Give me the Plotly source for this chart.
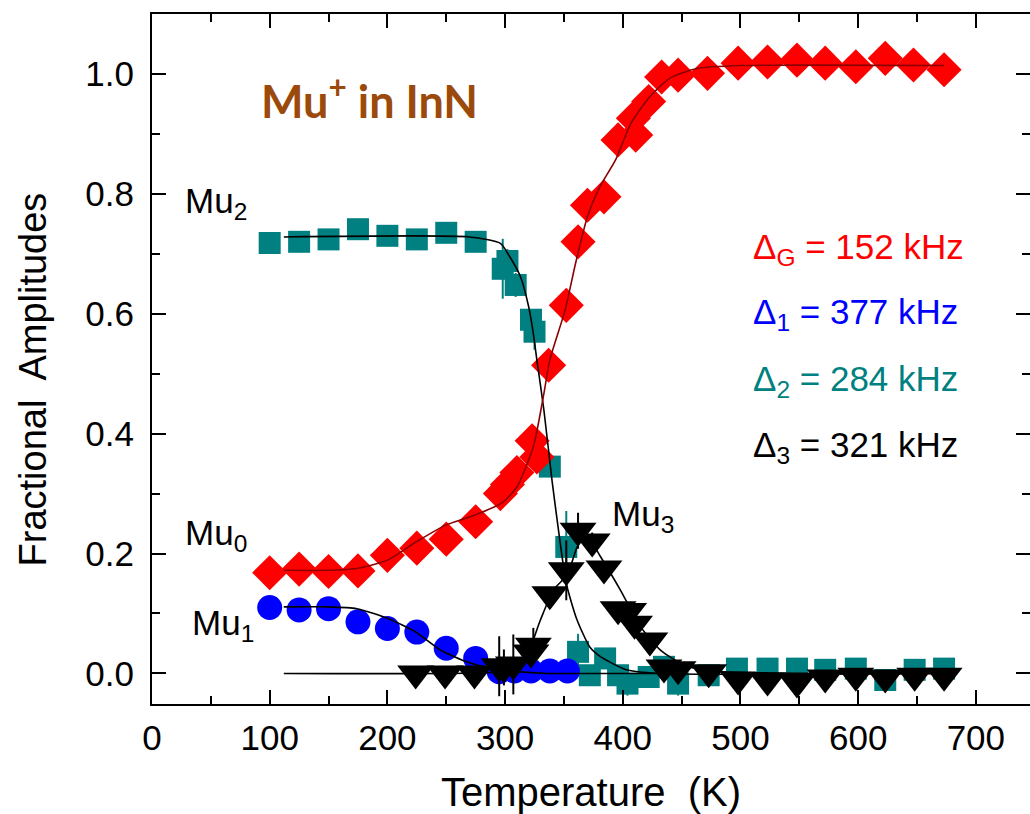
import plotly.graph_objects as go

# ---- measured fractional amplitudes vs temperature ----
# Mu0 (diamagnetic, Delta_G)
t_mu0 = [100, 125, 150, 175, 200, 225, 250, 275, 296, 302, 310, 323, 327, 337,
         352, 362, 370, 384, 396, 409, 411, 422, 433, 447, 472, 498, 523, 548,
         572, 598, 623, 647, 673]
a_mu0 = [0.168, 0.174, 0.170, 0.171, 0.197, 0.209, 0.224, 0.253, 0.300, 0.315,
         0.335, 0.388, 0.361, 0.514, 0.614, 0.720, 0.781, 0.795, 0.890, 0.926,
         0.898, 0.954, 0.995, 0.998, 1.001, 1.018, 1.020, 1.023, 1.018, 1.012,
         1.026, 1.015, 1.007]

# Mu1 (Delta_1)
t_mu1 = [100, 125, 150, 175, 200, 225, 250, 275, 295, 308, 322, 338, 353]
a_mu1 = [0.110, 0.106, 0.108, 0.086, 0.075, 0.069, 0.042, 0.025, 0.003, 0.004,
         0.004, 0.004, 0.004]

# Mu2 (Delta_2)
t_mu2 = [100, 125, 150, 175, 200, 225, 250, 275, 298, 302, 309, 322, 325, 338,
         352, 362, 372, 385, 396, 404, 422, 435, 447, 473, 497, 523, 548, 572,
         598, 623, 648, 673]
a_mu2 = [0.718, 0.720, 0.724, 0.741, 0.730, 0.724, 0.735, 0.720, 0.675, 0.688,
         0.648, 0.590, 0.570, 0.345, 0.211, 0.036, -0.003, 0.025, -0.003, -0.017,
         -0.006, 0.011, -0.017, -0.003, 0.008, 0.008, 0.008, 0.006, 0.008,
         -0.011, 0.006, 0.008]
e_mu2 = [0.0, 0.0, 0.0, 0.0, 0.0, 0.012, 0.0, 0.0, 0.05, 0.02, 0.02, 0.0, 0.03,
         0.0, 0.06, 0.03, 0.0, 0.015, 0.0, 0.02, 0.0, 0.0, 0.02, 0.0, 0.0, 0.0,
         0.0, 0.0, 0.0, 0.0, 0.0, 0.0]

# Mu3 (Delta_3)
t_mu3 = [224, 249, 274, 295, 299, 307, 322, 324, 338, 352, 362, 374, 384, 396,
         405, 410, 423, 435, 447, 473, 498, 523, 548, 572, 598, 623, 648, 673]
a_mu3 = [0.0, 0.0, 0.0, 0.012, 0.010, 0.015, 0.035, 0.046, 0.132, 0.172, 0.238,
         0.220, 0.175, 0.107, 0.104, 0.083, 0.055, 0.010, 0.007, 0.002, -0.010,
         -0.012, -0.015, -0.007, -0.004, -0.007, -0.004, -0.004]
e_mu3 = [0.0, 0.0, 0.0, 0.05, 0.03, 0.05, 0.02, 0.03, 0.0, 0.05, 0.03, 0.015,
         0.0, 0.0, 0.0, 0.015, 0.0, 0.0, 0.015, 0.0, 0.0, 0.0, 0.0, 0.0, 0.0,
         0.0, 0.0, 0.0]

# ---- fitted curves ----
t_fit0 = [112, 150, 174, 200, 225, 249, 274, 297, 310, 324, 333, 338, 351, 360,
          370, 380, 394, 407, 423, 440, 463, 500, 673]
a_fit0 = [0.172, 0.172, 0.175, 0.189, 0.220, 0.247, 0.264, 0.284, 0.311, 0.378,
          0.467, 0.523, 0.606, 0.685, 0.762, 0.810, 0.857, 0.918, 0.962, 0.993,
          1.009, 1.014, 1.014]

t_fit1 = [112, 150, 174, 200, 224, 245, 268, 290, 310, 337, 400, 450]
a_fit1 = [0.111, 0.111, 0.108, 0.092, 0.069, 0.039, 0.019, 0.008, 0.003, 0.0,
          0.0, 0.0]

t_fit2 = [112, 270, 296, 304, 313, 320, 324, 327, 333, 340, 346, 352, 361, 372,
          381, 403, 430, 673]
a_fit2 = [0.728, 0.728, 0.7175, 0.695, 0.662, 0.612, 0.567, 0.523, 0.439, 0.320,
          0.230, 0.150, 0.090, 0.044, 0.028, 0.006, 0.0, 0.0]

t_fit3 = [112, 290, 305, 319, 330, 341, 353, 361, 366, 373, 381, 398, 415, 432,
          452, 474, 673]
a_fit3 = [0.0, 0.002, 0.008, 0.033, 0.089, 0.139, 0.165, 0.210, 0.225, 0.220,
          0.195, 0.139, 0.078, 0.039, 0.014, 0.004, 0.0]

RED = "#ff0000"
BLUE = "#0000ff"
TEAL = "#008080"
BLACK = "#000000"
BROWN = "#9c4a0b"
FONT = "Liberation Sans, Arial, sans-serif"

fig = go.Figure()

fig.add_trace(go.Scatter(
    x=t_mu2, y=a_mu2, mode="markers",
    marker=dict(symbol="square", size=22, color=TEAL),
    error_y=dict(type="data", array=e_mu2, color=TEAL, thickness=2, width=0),
))
fig.add_trace(go.Scatter(
    x=t_mu1, y=a_mu1, mode="markers",
    marker=dict(symbol="circle", size=25, color=BLUE),
))
fig.add_trace(go.Scatter(
    x=t_mu0, y=a_mu0, mode="markers",
    marker=dict(symbol="diamond", size=27, color=RED),
))
fig.add_trace(go.Scatter(
    x=t_mu3, y=a_mu3, mode="markers",
    marker=dict(symbol="triangle-down", size=32, color=BLACK),
    error_y=dict(type="data", array=e_mu3, color=BLACK, thickness=2, width=0),
))

for tx, ay, col in [(t_fit1, a_fit1, BLACK), (t_fit2, a_fit2, BLACK),
                    (t_fit3, a_fit3, BLACK), (t_fit0, a_fit0, "#8b0000")]:
    fig.add_trace(go.Scatter(x=tx, y=ay, mode="lines",
                             line=dict(color=col, width=1.6, shape="spline",
                                       smoothing=0.6)))

# right-hand tick marks (no spine line on that side)
fig.add_trace(go.Scatter(x=[None], y=[None], yaxis="y2", showlegend=False))

XR = [0, 746]
YR = [-0.051, 1.100]

fig.update_layout(
    width=1030, height=814,
    margin=dict(l=152, r=0, t=14, b=110),
    paper_bgcolor="white", plot_bgcolor="white",
    showlegend=False,
    font=dict(family=FONT, color="black"),
    xaxis=dict(
        range=XR, tickvals=[0, 100, 200, 300, 400, 500, 600, 700],
        ticks="inside", ticklen=14, tickwidth=2, tickcolor="black",
        minor=dict(dtick=50, tick0=0, ticks="inside", ticklen=8, tickwidth=2,
                   tickcolor="black"),
        showline=True, linewidth=2, linecolor="black", mirror="ticks",
        showgrid=False, zeroline=False,
        tickfont=dict(size=35, family=FONT),
        ticklabelstandoff=2,
        title=dict(text="Temperature  (K)", font=dict(size=40, family=FONT),
                   standoff=26),
    ),
    yaxis=dict(
        range=YR, tickvals=[0.0, 0.2, 0.4, 0.6, 0.8, 1.0], tickformat=".1f",
        ticks="inside", ticklen=14, tickwidth=2, tickcolor="black",
        minor=dict(dtick=0.1, tick0=0, ticks="inside", ticklen=8, tickwidth=2,
                   tickcolor="black"),
        showline=True, linewidth=2, linecolor="black", mirror=False,
        showgrid=False, zeroline=False,
        tickfont=dict(size=35, family=FONT),
        ticklabelstandoff=9,
    ),
    yaxis2=dict(
        range=YR, overlaying="y", side="right",
        tickvals=[0.0, 0.2, 0.4, 0.6, 0.8, 1.0],
        ticks="inside", ticklen=14, tickwidth=2, tickcolor="black",
        minor=dict(dtick=0.1, tick0=0, ticks="inside", ticklen=8, tickwidth=2,
                   tickcolor="black"),
        showticklabels=False, showline=False, showgrid=False, zeroline=False,
    ),
)

# vertical axis title
fig.add_annotation(xref="paper", yref="paper", x=-0.135, y=0.471,
                   text="Fractional  Amplitudes", textangle=-90,
                   showarrow=False, xanchor="center", yanchor="middle",
                   font=dict(family=FONT, size=38, color="black"))

lab = dict(family=FONT, size=35, color="black")
notes = [
    (54, 0.785, "Mu<sub>2</sub>"),
    (54, 0.231, "Mu<sub>0</sub>"),
    (60, 0.080, "Mu<sub>1</sub>"),
    (417, 0.262, "Mu<sub>3</sub>"),
]
for x, y, txt in notes:
    fig.add_annotation(x=x, y=y, text=txt, showarrow=False, font=lab,
                       xanchor="center", yanchor="middle")

deltas = [
    (0.708, "Δ<sub>G</sub> = 152 kHz", RED),
    (0.600, "Δ<sub>1</sub> = 377 kHz", BLUE),
    (0.487, "Δ<sub>2</sub> = 284 kHz", TEAL),
    (0.378, "Δ<sub>3</sub> = 321 kHz", BLACK),
]
for y, txt, col in deltas:
    fig.add_annotation(x=509, y=y, text=txt, showarrow=False,
                       font=dict(family=FONT, size=35, color=col),
                       xanchor="left", yanchor="middle")

fig.add_annotation(x=91, y=0.960, text="<b>Mu<sup>+</sup> in InN</b>",
                   showarrow=False, xanchor="left", yanchor="middle",
                   font=dict(family="Lato, Open Sans, sans-serif", size=45,
                             color=BROWN))

fig.write_html("out.html")
